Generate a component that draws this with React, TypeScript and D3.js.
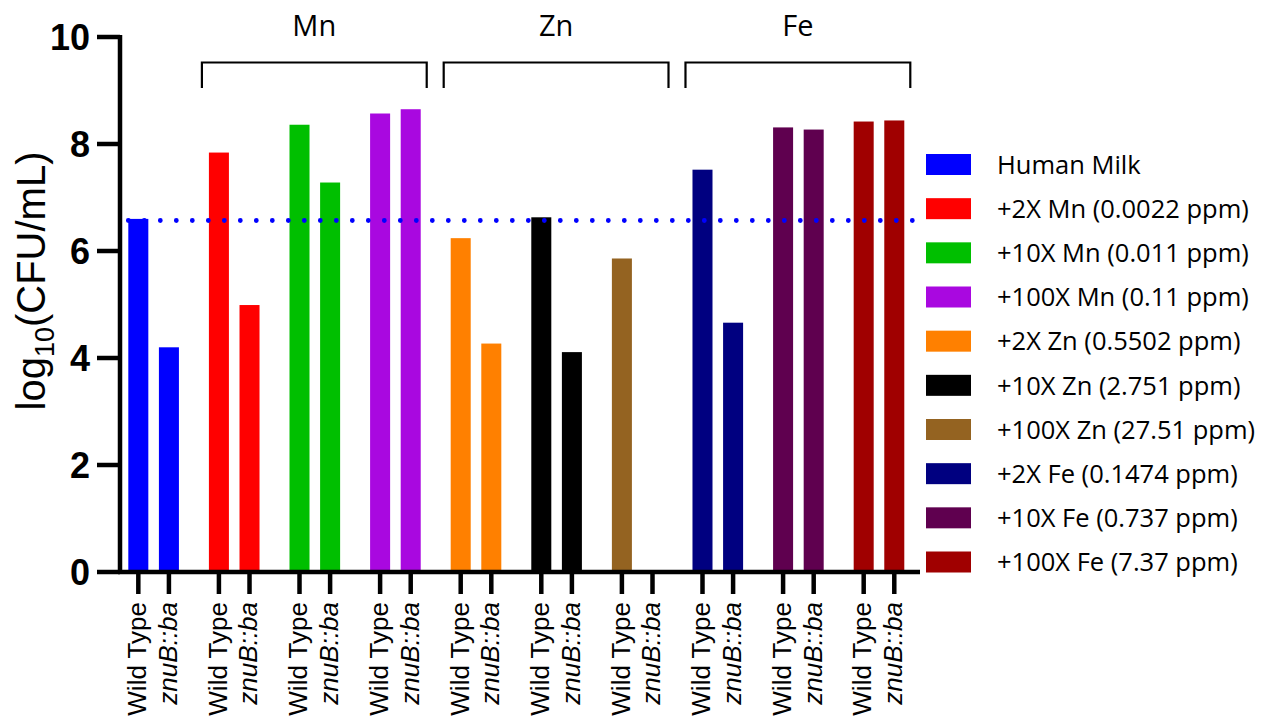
import React from "react";
import * as d3 from "d3";

const groupNames = [
  "Human Milk",
  "+2X Mn (0.0022 ppm)",
  "+10X Mn (0.011 ppm)",
  "+100X Mn (0.11 ppm)",
  "+2X Zn (0.5502 ppm)",
  "+10X Zn (2.751 ppm)",
  "+100X Zn (27.51 ppm)",
  "+2X Fe (0.1474 ppm)",
  "+10X Fe (0.737 ppm)",
  "+100X Fe (7.37 ppm)",
];
const strains = ["Wild Type", "znuB::ba"];
const wildTypeValues = [6.6, 7.84, 8.36, 8.57, 6.24, 6.63, 5.86, 7.52, 8.31, 8.42];
const znuBValues = [4.2, 4.99, 7.28, 8.65, 4.27, 4.11, 0, 4.66, 8.27, 8.44];
const groupColors = [
  "#0000FF",
  "#FF0000",
  "#00BF00",
  "#A908E0",
  "#FF8000",
  "#000000",
  "#946321",
  "#000080",
  "#5F004F",
  "#A00000",
];
const milkReference = 6.57;
const yTicks = [0, 2, 4, 6, 8, 10];
const elementLabels = ["Mn", "Zn", "Fe"];
const elementFirstGroup = [1, 4, 7];
const elementLastGroup = [3, 6, 9];

const W = 1267;
const H = 719;
const AXIS_FONT = "'Liberation Sans', Arial, sans-serif";
const LEGEND_FONT = "'Open Sans', 'Noto Sans', sans-serif";

export default function App() {
  const y = d3.scaleLinear().domain([0, 10]).range([572, 37]);
  const xGroup = d3
    .scaleBand<string>()
    .domain(groupNames)
    .range([120, 920])
    .paddingInner(0.372)
    .paddingOuter(0.149)
    .align(0.346);
  const xInner = d3
    .scaleBand<string>()
    .domain(strains)
    .range([0, xGroup.bandwidth()])
    .paddingInner(0.346)
    .paddingOuter(0);
  const legendY = d3.scalePoint<string>().domain(groupNames).range([164.5, 562]);

  const bars = groupNames.flatMap((g, i) =>
    strains.map((s, j) => ({
      key: `${g}-${s}`,
      x: (xGroup(g) as number) + (xInner(s) as number),
      value: j === 0 ? wildTypeValues[i] : znuBValues[i],
      color: groupColors[i],
      strain: s,
    }))
  );

  const axisX0 = 120;
  const axisX1 = 920;
  const y0 = y(0);

  return (
    <svg
      width={W}
      height={H}
      style={{ position: "absolute", left: 0, top: 0, background: "#fff" }}
    >
      <rect x={0} y={0} width={W} height={H} fill="#fff" />

      {/* bars */}
      {bars.map((b) => (
        <rect
          key={b.key}
          x={b.x}
          y={y(b.value)}
          width={xInner.bandwidth()}
          height={y0 - y(b.value)}
          fill={b.color}
        />
      ))}

      {/* dotted human milk reference */}
      <line
        x1={xGroup(groupNames[0]) as number}
        x2={914}
        y1={y(milkReference)}
        y2={y(milkReference)}
        stroke="#0000FF"
        strokeWidth={4.8}
        strokeLinecap="round"
        strokeDasharray="0 16"
      />

      {/* y axis */}
      <line x1={axisX0} x2={axisX0} y1={y(10) - 2} y2={y0 + 2} stroke="#000" strokeWidth={4.5} />
      {yTicks.map((t) => (
        <g key={t}>
          <line x1={97} x2={axisX0} y1={y(t)} y2={y(t)} stroke="#000" strokeWidth={4.5} />
          <text
            x={90}
            y={y(t)}
            dy="0.36em"
            textAnchor="end"
            fontFamily={AXIS_FONT}
            fontWeight="bold"
            fontSize={36}
            fill="#000"
          >
            {t}
          </text>
        </g>
      ))}
      <text
        transform={`translate(45, 281) rotate(-90)`}
        textAnchor="middle"
        fontFamily={AXIS_FONT}
        fontSize={40}
        fill="#000"
      >
        log
        <tspan fontSize={27} dy={9}>
          10
        </tspan>
        <tspan dy={-9}>(CFU/mL)</tspan>
      </text>

      {/* x axis */}
      <line x1={axisX0 - 2} x2={axisX1} y1={y0} y2={y0} stroke="#000" strokeWidth={4.5} />
      {bars.map((b) => {
        const cx = b.x + xInner.bandwidth() / 2;
        return (
          <g key={`t-${b.key}`}>
            <line x1={cx} x2={cx} y1={y0} y2={y0 + 22} stroke="#000" strokeWidth={4.5} />
            <text
              transform={`translate(${cx}, ${y0 + 30}) rotate(-90)`}
              dy="0.3em"
              textAnchor="end"
              fontFamily={AXIS_FONT}
              fontSize={26}
              fontStyle={b.strain === "znuB::ba" ? "italic" : "normal"}
              fill="#000"
            >
              {b.strain}
            </text>
          </g>
        );
      })}

      {/* element brackets */}
      {elementLabels.map((lab, k) => {
        const xa = (xGroup(groupNames[elementFirstGroup[k]]) as number) - 7;
        const xb =
          (xGroup(groupNames[elementLastGroup[k]]) as number) + xGroup.bandwidth() + 6;
        return (
          <g key={lab}>
            <path
              d={`M${xa},88 V62.5 H${xb} V88`}
              fill="none"
              stroke="#000"
              strokeWidth={2.2}
            />
            <text
              x={(xa + xb) / 2}
              y={36}
              textAnchor="middle"
              fontFamily={LEGEND_FONT}
              fontSize={29}
              fill="#000"
            >
              {lab}
            </text>
          </g>
        );
      })}

      {/* legend */}
      {groupNames.map((g, i) => {
        const cy = legendY(g) as number;
        return (
          <g key={`leg-${g}`}>
            <rect x={926} y={cy - 10.5} width={45} height={21} fill={groupColors[i]} />
            <text
              x={997}
              y={cy}
              dy="0.36em"
              fontFamily={LEGEND_FONT}
              fontSize={25.5}
              fill="#000"
            >
              {g}
            </text>
          </g>
        );
      })}
    </svg>
  );
}
